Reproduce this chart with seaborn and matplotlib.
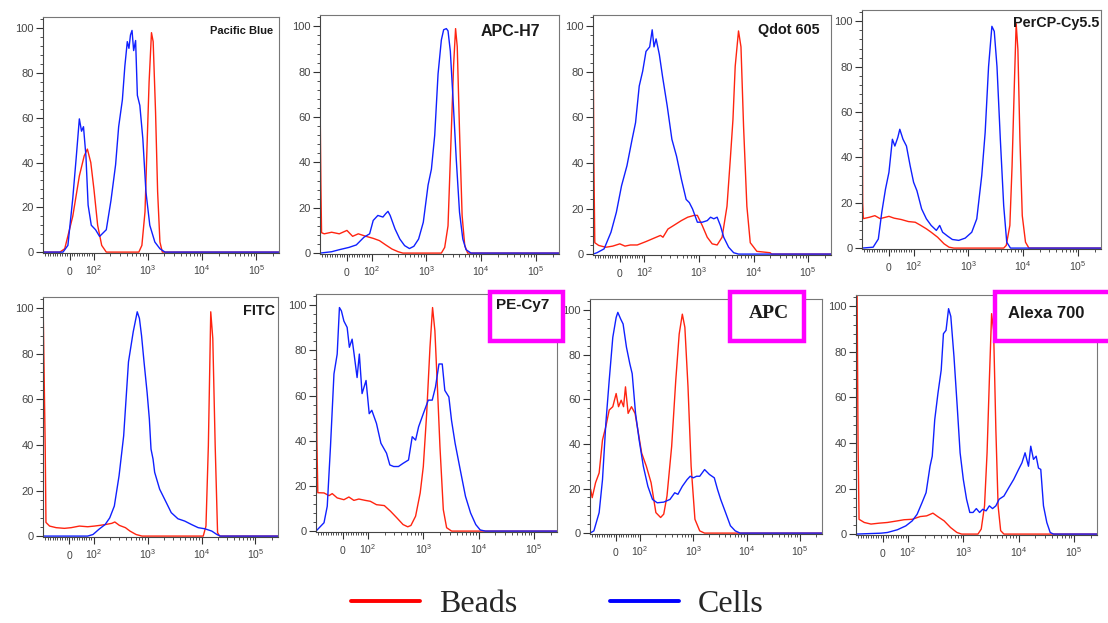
import matplotlib
matplotlib.use("Agg")
import matplotlib.pyplot as plt
from matplotlib.ticker import FixedLocator, MultipleLocator
from matplotlib.patches import Rectangle
from matplotlib.lines import Line2D
import seaborn as sns

# ---------------- data (intensity, % of max) ----------------
PANEL_NAMES = ["Pacific Blue", "APC-H7", "Qdot 605", "PerCP-Cy5.5",
               "FITC", "PE-Cy7", "APC", "Alexa 700"]
SERIES_NAMES = ["Beads", "Cells"]

PB_BEADS_X = [-110, -40, -20, 13, 40, 60, 73, 87, 100, 117, 139, 169, 674, 768, 877, 967, 1044, 1155, 1241, 1374, 1500, 1655, 1833, 262144]
PB_BEADS_Y = [0, 0, 1.5, 16, 34, 43, 46, 40, 28, 12, 3, 0, 0, 3, 18, 51, 76, 98, 94, 62.5, 27, 4.5, 0, 0]
PB_CELLS_X = [-110, -27, -7, 13, 27, 40, 49, 57, 67, 76, 89, 107, 127, 169, 206, 251, 286, 335, 372, 413, 443, 473, 505, 541, 588, 634, 704, 800, 912, 1075, 1334, 1655, 2054, 262144]
PB_CELLS_Y = [0, 0, 3, 24, 42, 59.5, 54, 56, 43, 21, 12, 10, 7, 10, 23, 39, 56, 68, 83, 94, 91, 97, 99, 90, 94.5, 70, 65.5, 50.6, 27, 12, 4.5, 1.5, 0, 0]

AH7_BEADS_X = [-110, -106, -103, -92, -62, -31, 0, 23, 46, 77, 107, 139, 181, 235, 305, 372, 1873, 2154, 2477, 2848, 3134, 3403, 3650, 4015, 4478, 5000, 5660, 262144]
AH7_BEADS_Y = [71, 30, 9, 8.5, 9.2, 8.5, 10, 7.4, 8.5, 7.4, 6.5, 5.5, 3.6, 1.8, 0.6, 0, 0, 2.5, 12, 54, 83, 99, 91, 54, 16.6, 3.3, 0, 0]
AH7_CELLS_X = [-110, -62, -31, 8, 38, 69, 92, 107, 130, 161, 181, 199, 218, 267, 327, 400, 490, 590, 720, 877, 1072, 1233, 1417, 1630, 1873, 2062, 2310, 2477, 2730, 3050, 3500, 4015, 4610, 5290, 6510, 262144]
AH7_CELLS_Y = [0, 0.6, 1.5, 2.5, 3.6, 7, 8.5, 14.4, 16.6, 15.9, 17.4, 18.4, 16.6, 10.7, 6.2, 3.3, 2, 3, 6.2, 13.6, 30, 37, 52, 79, 94, 98.5, 99, 98, 89, 68.5, 41.5, 18, 6.2, 1.5, 0, 0]

QD_BEADS_X = [-110, -106, -102, -86, -57, -29, 0, 21, 43, 71, 107, 150, 197, 219, 270, 340, 475, 622, 816, 935, 1150, 1417, 1745, 2150, 2650, 3260, 3750, 4190, 4610, 5300, 5880, 6560, 7540, 8700, 11500, 20100, 21500, 262144]
QD_BEADS_Y = [105, 40, 5, 3.8, 3, 3.5, 4.5, 3.5, 4, 4, 5.5, 7, 8.2, 7.4, 11, 12.5, 14.7, 16.2, 17, 17, 12.5, 7.4, 4.5, 4, 7.4, 21, 41.7, 59, 82.5, 98, 91, 56, 21, 5, 1.2, 0.6, 0, 0]
QD_CELLS_X = [-110, -93, -64, -36, -14, 7, 29, 50, 64, 79, 93, 107, 125, 139, 150, 164, 188, 215, 262, 319, 388, 475, 582, 666, 763, 935, 1150, 1417, 1630, 1870, 2150, 2470, 2840, 3500, 4320, 5300, 262144]
QD_CELLS_Y = [0, 0.6, 2.3, 9.6, 18.4, 30, 38.8, 50.4, 57.7, 73.8, 80.3, 89, 91, 98.5, 91, 94.5, 87.6, 78, 65, 50.4, 43, 33, 24, 22.6, 19.8, 14, 14, 14.7, 16.2, 15.5, 16.2, 12.5, 7.4, 3, 0.6, 0, 0]

PCP_BEADS_X = [-110, -107, -104, -79, -57, -36, -14, 0, 21, 50, 79, 107, 131, 171, 209, 274, 359, 443, 543, 4400, 4900, 5700, 6250, 6900, 7430, 7990, 8700, 9600, 11000, 12700, 262144]
PCP_BEADS_Y = [105, 20, 13, 13.6, 14.3, 13, 13.6, 14, 13.2, 12.6, 11.7, 11.4, 10.2, 8.5, 7, 4.8, 1.9, 0.4, 0, 0, 1.2, 10, 36, 73, 99, 87.6, 48, 14.3, 2.6, 0, 0]
PCP_CELLS_X = [-110, -64, -43, -29, -14, 0, 14, 24, 36, 44, 57, 71, 86, 100, 115, 140, 171, 209, 260, 299, 338, 416, 509, 666, 874, 1150, 1420, 1750, 2020, 2330, 2680, 2960, 3320, 3820, 4400, 5000, 5850, 262144]
PCP_CELLS_Y = [0, 0.4, 4, 15.8, 26, 33.4, 48, 45, 48.8, 52.4, 48, 45, 36.3, 29, 25.3, 17.3, 12.9, 10, 7.8, 10, 7, 5.3, 3.8, 3.4, 4.4, 7, 12.9, 32, 51, 80, 97.8, 95.6, 80, 48, 18.7, 2.6, 0, 0]

FITC_BEADS_X = [-110, -100, -97, -82, -55, -21, 7, 41, 75, 103, 129, 167, 216, 246, 299, 387, 470, 610, 787, 10750, 12080, 13380, 14820, 16170, 17910, 19830, 21660, 262144]
FITC_BEADS_Y = [105, 38, 6, 4.4, 3.7, 3.4, 3.7, 4.4, 4.1, 4.4, 4.7, 5.1, 5.6, 6.2, 4.7, 3.7, 2.2, 0.7, 0, 0, 4.4, 39.7, 98.5, 86.8, 39.7, 1.5, 0, 0]
FITC_CELLS_X = [-110, 75, 97, 125, 163, 198, 241, 295, 359, 441, 540, 641, 704, 771, 857, 978, 1075, 1155, 1260, 1350, 1670, 2220, 2740, 3650, 4870, 6490, 8660, 11570, 15480, 19250, 22280, 262144]
FITC_CELLS_Y = [0, 0, 0.7, 3, 5.1, 8, 13.2, 26.5, 44, 76.5, 89.7, 98.5, 95.6, 88, 76.5, 63, 51.5, 38.2, 33.8, 28, 20.6, 14.7, 10.3, 7.6, 6.6, 5.1, 3.7, 3.2, 2.2, 0.7, 0, 0]

PEC7_BEADS_X = [-110, -106, -102, -77, -57, -44, -24, 3, 23, 43, 63, 89, 110, 142, 197, 255, 331, 430, 523, 597, 725, 878, 1000, 1150, 1320, 1470, 1620, 1810, 2000, 2300, 2640, 3250, 262144]
PEC7_BEADS_Y = [105, 40, 17, 16.9, 15.7, 16.6, 14.7, 13.9, 15.1, 13.6, 14.2, 13.6, 13.2, 11.7, 11.3, 8.8, 5.9, 2.9, 1.9, 2.5, 6.6, 16.9, 28.6, 52, 81.4, 99, 88.7, 62.3, 37.4, 9.5, 1.5, 0, 0]
PEC7_CELLS_X = [-110, -77, -64, -51, -37, -24, -15, -7, 3, 16, 25, 36, 43, 56, 65, 76, 92, 105, 117, 142, 171, 216, 248, 291, 355, 430, 540, 630, 725, 822, 1000, 1230, 1450, 1660, 1920, 2200, 2450, 2900, 3240, 3760, 4670, 5790, 7170, 8890, 10700, 13300, 262144]
PEC7_CELLS_Y = [0, 3.7, 11, 37.4, 69.6, 78.4, 99, 97.5, 93, 90.2, 81.4, 85, 79.2, 68, 78.4, 60.9, 66.7, 52, 53.5, 47.7, 38.9, 34.5, 29.3, 28.6, 28.6, 30, 31.5, 41.8, 40.3, 46.2, 52, 58, 58, 63.8, 74, 74, 62.3, 59.4, 49, 38.9, 27, 15.4, 8, 2.9, 0.5, 0, 0]

APC_BEADS_X = [-110, -107, -100, -86, -71, -57, -43, -29, -14, 0, 10, 21, 31, 39, 50, 64, 79, 93, 107, 131, 161, 198, 243, 278, 320, 392, 468, 543, 622, 694, 795, 910, 1073, 1320, 1630, 262144]
APC_BEADS_Y = [20, 19.6, 15.9, 22.6, 27, 41.8, 47.8, 55.2, 56.7, 62.6, 56.7, 59.6, 56.7, 65.6, 53.7, 56.7, 53.7, 44.8, 35.9, 30, 22.6, 9.2, 7, 8.5, 16.6, 38.9, 68.5, 89.3, 98.2, 92.3, 65.6, 30, 6.2, 1, 0, 0]
APC_CELLS_X = [-110, -93, -71, -57, -43, -29, -14, 0, 7, 19, 29, 43, 57, 67, 81, 96, 115, 140, 171, 210, 278, 364, 448, 514, 622, 764, 874, 1000, 1150, 1320, 1630, 2010, 2480, 2850, 3270, 4040, 4980, 6140, 7570, 262144]
APC_CELLS_Y = [0, 1, 9.2, 24, 49.3, 68.5, 87.8, 96.7, 99, 96, 93.8, 83.4, 76, 71.5, 53.7, 41.8, 30, 21, 15.1, 13.6, 13.9, 15.1, 18.1, 17.4, 21, 24, 25.5, 24.8, 25.5, 25.5, 28.5, 26.3, 24.8, 19.6, 15.1, 9.2, 3.3, 1, 0, 0]

AX7_BEADS_X = [-110, -105, -101, -97, -76, -49, -16, 17, 57, 84, 119, 166, 217, 282, 344, 450, 587, 766, 935, 1840, 2110, 2420, 2690, 2960, 3250, 3530, 3880, 4260, 4740, 5430, 262144]
AX7_BEADS_Y = [105, 105, 40, 6.5, 5.1, 4.4, 4.8, 5.1, 5.8, 6.3, 6.5, 7.7, 8, 9.2, 7.7, 5.8, 2.9, 0.7, 0, 0, 2.2, 12.4, 35.7, 67.7, 96.8, 89.5, 45.9, 12.4, 1.5, 0, 0]
AX7_CELLS_X = [-110, -9, 17, 57, 91, 119, 146, 179, 212, 250, 274, 304, 348, 398, 437, 487, 541, 594, 678, 776, 875, 1000, 1145, 1310, 1500, 1720, 1970, 2250, 2580, 2960, 3380, 3880, 4440, 5430, 6650, 8150, 10000, 11500, 13100, 15100, 16600, 18600, 20800, 22900, 25200, 28200, 32400, 37300, 42800, 262144]
AX7_CELLS_Y = [0, 0.4, 0.7, 1.9, 3.6, 5.8, 8.7, 13.8, 18.2, 29.8, 34.2, 50.2, 61.9, 72, 88, 89.5, 99, 95.6, 77.9, 56, 35.7, 24, 15.3, 9.5, 9.5, 11.2, 9.5, 10.9, 10.2, 12.4, 11.2, 12.4, 15.3, 16.7, 20.4, 24, 28.4, 31.3, 35.7, 29.8, 38.6, 32.8, 34.2, 29, 28.4, 12.4, 5.1, 0.7, 0, 0]

X_TICKS = [0, 100, 1000, 10000, 100000]
X_TICK_LABELS = [r"$0$", r"$10^2$", r"$10^3$", r"$10^4$", r"$10^5$"]
Y_TICKS = [0, 20, 40, 60, 80, 100]

PANEL_DATA = [
    (PB_BEADS_X, PB_BEADS_Y, PB_CELLS_X, PB_CELLS_Y),
    (AH7_BEADS_X, AH7_BEADS_Y, AH7_CELLS_X, AH7_CELLS_Y),
    (QD_BEADS_X, QD_BEADS_Y, QD_CELLS_X, QD_CELLS_Y),
    (PCP_BEADS_X, PCP_BEADS_Y, PCP_CELLS_X, PCP_CELLS_Y),
    (FITC_BEADS_X, FITC_BEADS_Y, FITC_CELLS_X, FITC_CELLS_Y),
    (PEC7_BEADS_X, PEC7_BEADS_Y, PEC7_CELLS_X, PEC7_CELLS_Y),
    (APC_BEADS_X, APC_BEADS_Y, APC_CELLS_X, APC_CELLS_Y),
    (AX7_BEADS_X, AX7_BEADS_Y, AX7_CELLS_X, AX7_CELLS_Y),
]

# ---------------- layout / style ----------------
W, H = 1108, 623
RED = "#FF2410"
BLUE = "#1020FF"

# axes rectangles in pixels: left, top, right, bottom
AX_PX = [(43, 17, 279, 253), (320, 15, 559, 254), (593, 15, 831, 255), (862, 10, 1101, 249),
         (43, 297, 278, 537), (316, 294, 557, 532), (590, 299, 822, 534), (856, 295, 1097, 535)]
# label: right edge px, center y px, size, family
LABEL_STYLE = [(273, 31, 8, "sans"), (540, 32, 11.5, "sans"), (820, 30, 10.4, "sans"),
               (1099, 23, 10.4, "sans"), (275, 311, 10.4, "sans"), (549, 305, 11, "sans"),
               (789, 313, 14, "serif"), (1084, 313, 12, "sans")]
# magenta boxes: x0, y0, x1, y1 (px, stroke centre)
BOXES = [(490, 292, 563, 341), (730, 292, 804, 341), (995, 292, 1112, 341)]

sns.set_theme(style="ticks")
plt.rcParams["font.family"] = ["Liberation Sans", "DejaVu Sans"]
plt.rcParams["mathtext.fontset"] = "custom"
plt.rcParams["mathtext.rm"] = "Liberation Sans"
plt.rcParams["mathtext.it"] = "Liberation Sans"
plt.rcParams["mathtext.default"] = "regular"

fig = plt.figure(figsize=(W / 100, H / 100), dpi=100)
fig.patch.set_facecolor("white")


def fx(x):
    return x / W


def fy(y):
    return 1 - y / H


minor_x = [-100, -90, -80, -70, -60, -50, -40, -30, -20, -10, 10, 20, 30, 40, 50, 60, 70, 80, 90]
for dec in (100, 1000, 10000, 100000):
    minor_x += [dec * k for k in range(2, 10) if dec * k <= 262144]

for i, (bx, by, cx, cy) in enumerate(PANEL_DATA):
    l, t, r, b = AX_PX[i]
    ax = fig.add_axes([fx(l), fy(b), fx(r) - fx(l), fy(t) - fy(b)])
    ax.set_facecolor("white")
    sns.lineplot(x=bx, y=by, ax=ax, color=RED, linewidth=1.0, estimator=None, sort=False)
    sns.lineplot(x=cx, y=cy, ax=ax, color=BLUE, linewidth=1.0, estimator=None, sort=False)
    ax.set_xscale("symlog", linthresh=100, linscale=0.405)
    ax.set_xlim(-110, 262144)
    ax.set_ylim(-0.4, 105)
    ax.xaxis.set_major_locator(FixedLocator(X_TICKS))
    ax.set_xticklabels(X_TICK_LABELS)
    ax.xaxis.set_minor_locator(FixedLocator(minor_x))
    ax.yaxis.set_major_locator(FixedLocator(Y_TICKS))
    ax.yaxis.set_minor_locator(MultipleLocator(4))
    ax.set_xlabel("")
    ax.set_ylabel("")
    ax.tick_params(axis="both", which="both", direction="out", bottom=True, left=True,
                   top=False, right=False)
    ax.tick_params(axis="both", which="major", length=5, width=0.8,
                   colors="#333333", labelcolor="#444444")
    ax.tick_params(axis="both", which="minor", length=2.5, width=0.6, colors="#333333")
    ax.tick_params(axis="y", which="major", labelsize=8, pad=1.5)
    ax.tick_params(axis="x", which="major", labelsize=7.5, pad=11)
    for lbl in ax.get_xticklabels():
        lbl.set_verticalalignment("baseline")
    for side, sp in ax.spines.items():
        sp.set_visible(True)
        sp.set_linewidth(0.8)
        sp.set_color("#444444" if side in ("left", "bottom") else "#777777")

# magenta label boxes
for (x0, y0, x1, y1) in BOXES:
    fig.patches.append(Rectangle((fx(x0), fy(y1)), fx(x1) - fx(x0), fy(y0) - fy(y1),
                                 transform=fig.transFigure, facecolor="white",
                                 edgecolor="#FF00FF", linewidth=3.2, zorder=5))

for name, (rx, cy, size, fam) in zip(PANEL_NAMES, LABEL_STYLE):
    family = ["Liberation Serif"] if fam == "serif" else ["Liberation Sans", "DejaVu Sans"]
    fig.text(fx(rx), fy(cy), name, ha="right", va="center", fontsize=size,
             fontweight="bold", family=family, color="#1a1a1a", zorder=6)

handles = [Line2D([], [], color="#FF0000", linewidth=2.8),
           Line2D([], [], color="#0000FF", linewidth=2.8)]
fig.legend(handles, SERIES_NAMES, loc="center", bbox_to_anchor=(0.503, 0.03), ncol=2,
           frameon=False, prop={"family": "Liberation Serif", "size": 23},
           handlelength=2.15, handletextpad=0.6, columnspacing=2.9, borderpad=0)

fig.savefig("out.png", dpi=100, facecolor="white")
